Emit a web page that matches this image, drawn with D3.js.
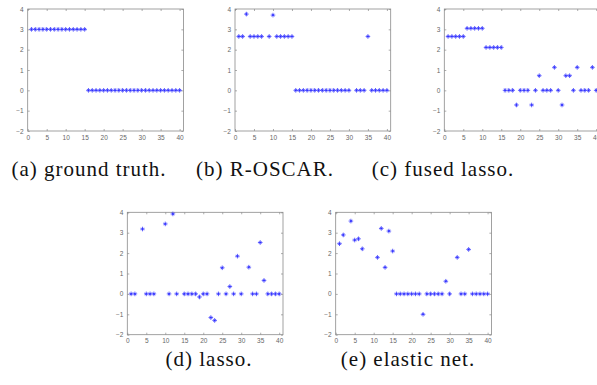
<!DOCTYPE html>
<html><head><meta charset="utf-8">
<script src="https://cdn.jsdelivr.net/npm/d3@7"></script>
<style>html,body{margin:0;padding:0;background:#fff;overflow:hidden}</style>
</head><body>
<script>
const idx = [1,2,3,4,5,6,7,8,9,10,11,12,13,14,15,16,17,18,19,20,21,22,23,24,25,26,27,28,29,30,31,32,33,34,35,36,37,38,39,40];
const groundTruth = [3,3,3,3,3,3,3,3,3,3,3,3,3,3,3, 0,0,0,0,0,0,0,0,0,0,0,0,0,0,0,0,0,0,0,0,0,0,0,0,0];
const rOscar = [2.65,2.65,3.75,2.65,2.65,2.65,2.65,null,2.65,3.70,2.65,2.65,2.65,2.65,2.65, 0,0,0,0,0,0,0,0,0,0,0,0,0,0,0,null,0,0,0,2.65,0,0,0,0,0];
const fusedLasso = [2.65,2.65,2.65,2.65,2.65,3.05,3.05,3.05,3.05,3.05,2.11,2.11,2.11,2.11,2.11, 0,0,0,-0.72,0,0,0,-0.72,0,0.72,0,0,0,1.13,0,-0.72,0.72,0.72,0,1.13,0,0,0,1.13,0];
const lasso = [0,0,null,3.18,0,0,0,null,null,3.43,0,3.92,0,null,0,0,0,0,-0.15,0,0,-1.16,-1.30,0,1.28,0,0.36,0,1.85,0,null,1.31,0,0,2.52,0.66,0,0,0,0];
const elasticNet = [2.46,2.89,null,3.57,2.64,2.70,2.21,null,null,null,1.79,3.21,1.30,3.08,2.10, 0,0,0,0,0,0,0,-1.0,0,0,0,0,0,0.62,0,null,1.79,0,0,2.18,0,0,0,0,0];
const xTicks = [0,5,10,15,20,25,30,35,40];
const yTicks = [-2,-1,0,1,2,3,4];
const captions = ["(a) ground truth.","(b) R-OSCAR.","(c) fused lasso.","(d) lasso.","(e) elastic net."];
const seriesList = [groundTruth, rOscar, fusedLasso, lasso, elasticNet];

const W = 597, H = 385;
const svg = d3.select("body").append("svg").attr("width", W).attr("height", H);

const panels = [
  {x:27.7, y:9, w:155.7, h:122, cx:89, cy:176},
  {x:235, y:9, w:155.7, h:122, cx:265, cy:176},
  {x:444.3, y:9, w:155.7, h:122, cx:443, cy:176},
  {x:127.3, y:212.3, w:155.7, h:122.4, cx:209, cy:366},
  {x:335.7, y:212.3, w:155.7, h:122.4, cx:408, cy:366}
];

const axCol = "#8a8a8a", lblCol = "#666";

panels.forEach((p, i) => {
  const g = svg.append("g").attr("transform", `translate(${p.x},${p.y})`);
  const x = d3.scaleLinear().domain([0, 41]).range([0, p.w]);
  const y = d3.scaleLinear().domain([-2, 4]).range([p.h, 0]);

  g.append("rect").attr("x",0).attr("y",0).attr("width",p.w).attr("height",p.h)
    .attr("fill","none").attr("stroke",axCol).attr("stroke-width",0.8);

  const style = sel => {
    sel.select(".domain").remove();
    sel.selectAll(".tick line").attr("stroke", axCol).attr("stroke-width",0.7);
    sel.selectAll(".tick text").attr("fill", lblCol).style("font-family","Liberation Sans, Arial, sans-serif").style("font-size","6.5px");
  };
  g.append("g").attr("transform",`translate(0,${p.h})`)
    .call(d3.axisBottom(x).tickValues(xTicks).tickSize(-2).tickPadding(4).tickFormat(d3.format("d"))).call(style);
  g.append("g").call(d3.axisTop(x).tickValues(xTicks).tickSize(-2).tickFormat("")).call(style);
  g.append("g").call(d3.axisLeft(y).tickValues(yTicks).tickSize(-2).tickPadding(4).tickFormat(d3.format("d"))).call(style);
  g.append("g").attr("transform",`translate(${p.w},0)`)
    .call(d3.axisRight(y).tickValues(yTicks).tickSize(-2).tickFormat("")).call(style);

  const data = idx.map((k, j) => ({k, v: seriesList[i][j]})).filter(d => d.v !== null);
  const s = 2.3, d2 = 1.3;
  g.selectAll("path.mk").data(data).enter().append("path").attr("class","mk")
    .attr("transform", d => `translate(${x(d.k)},${y(d.v)})`)
    .attr("d", `M${-s},0H${s}M0,${-s}V${s}M${-d2},${-d2}L${d2},${d2}M${-d2},${d2}L${d2},${-d2}`)
    .attr("stroke","#2a2aff").attr("stroke-width",0.75).attr("fill","none");

  svg.append("text").attr("x", p.cx).attr("y", p.cy).attr("text-anchor","middle")
    .style("font-family","'Liberation Serif', 'Times New Roman', serif").style("font-size","21px")
    .style("letter-spacing","1px")
    .attr("fill","#111").text(captions[i]);
});
</script>
</body></html>
